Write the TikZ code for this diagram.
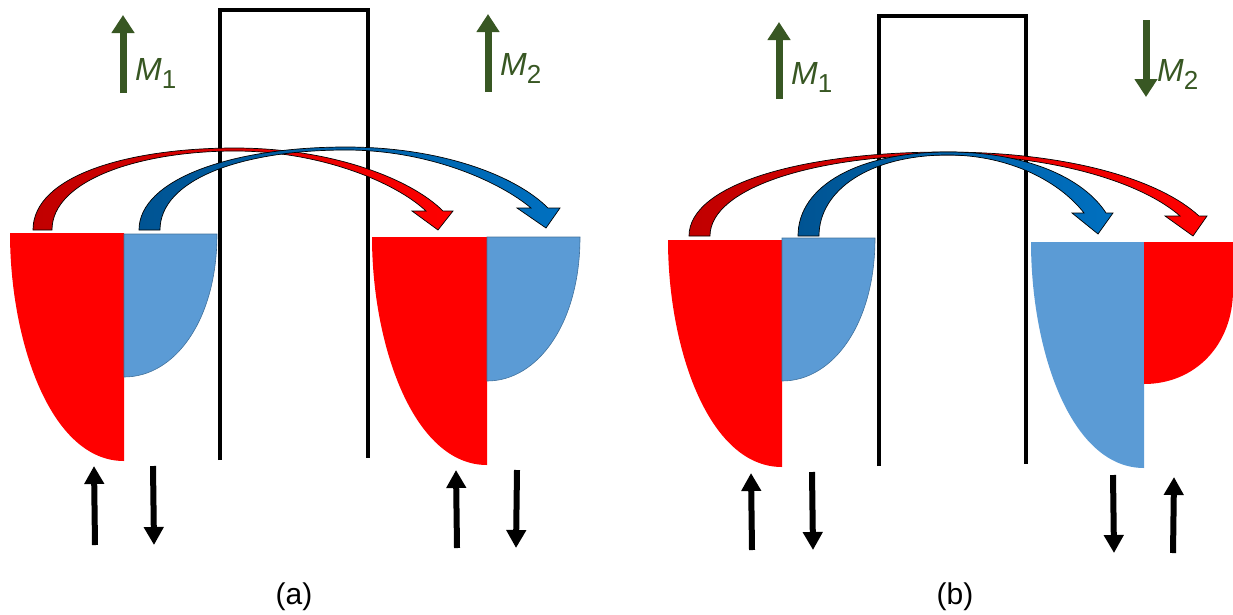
\documentclass[tikz,border=0pt]{standalone}
\usepackage{fontspec}
\setmainfont{Liberation Sans}
\usetikzlibrary{arrows.meta}
\definecolor{mgreen}{RGB}{56,87,35}
\definecolor{bred}{RGB}{255,0,0}
\definecolor{dred}{RGB}{192,0,0}
\definecolor{bblue}{RGB}{91,155,213}
\definecolor{bblueline}{RGB}{65,113,156}
\definecolor{ablue}{RGB}{0,112,192}
\definecolor{dblue}{RGB}{0,84,147}
\tikzset{
  barrier/.style={line width=4pt, line join=miter},
  redbowl/.style={fill=bred},
  bluebowl/.style={fill=bblue, draw=bblueline, line width=0.6pt},
  redarc/.style={draw=black, line width=0.7pt, left color=dred, right color=bred},
  bluearc/.style={draw=black, line width=0.7pt, left color=dblue, right color=ablue},
  marrow/.style={mgreen, line width=7pt, -{Triangle[length=18pt,width=22pt]}},
  sarrow/.style={black, line width=6pt, -{Triangle[length=18pt,width=19pt]}},
  mlabel/.style={text=mgreen, anchor=base west, inner sep=0pt, font=\fontsize{32}{38}\selectfont},
  plabel/.style={anchor=base, inner sep=0pt, font=\fontsize{30}{36}\selectfont}
}
\newcommand{\msub}[1]{\textit{M}\raisebox{-8pt}{\fontsize{26}{30}\selectfont #1}}
\begin{document}
\begin{tikzpicture}[x=1pt,y=-1pt]
\useasboundingbox (0,0) rectangle (1233,614);

% ---------- panel (a) ----------
\draw[barrier] (220,460) -- (220,10) -- (368,10) -- (368,458);
\fill[redbowl] (10,233) -- (124,233) -- (124,461) .. controls (50,461) and (10,340) .. (10,233) -- cycle;
\path[bluebowl] (124,234) -- (217,234) .. controls (217,320) and (175,377) .. (124,377) -- cycle;
\fill[redbowl] (372,237) -- (487,237) -- (487,465) .. controls (413,465) and (372,344) .. (372,237) -- cycle;
\path[bluebowl] (487,237) -- (580,237) .. controls (580,323) and (538,381) .. (487,381) -- cycle;

\path[redarc] (33,230) .. controls (33,175) and (130,148) .. (235,148)
  .. controls (330,148) and (410,178) .. (443,211) -- (453,211) -- (438,230) -- (412,211) -- (426,211)
  .. controls (395,182) and (320,151) .. (235,151)
  .. controls (140,151) and (52,180) .. (52,230) -- cycle;
\path[bluearc] (139,230) .. controls (139,180) and (230,147) .. (346,147)
  .. controls (440,147) and (515,175) .. (548,208) -- (560,208) -- (546,228) -- (517,208) -- (531,208)
  .. controls (500,182) and (430,150) .. (346,150)
  .. controls (240,150) and (160,180) .. (160,230) -- cycle;

\coordinate (am1s) at (123,93); \coordinate (am1e) at (123,15);
\coordinate (am2s) at (488,92); \coordinate (am2e) at (488,14);
\draw[marrow] (am1s) -- (am1e);
\draw[marrow] (am2s) -- (am2e);
\node[mlabel] (am1) at (135,80) {\msub{1}};
\node[mlabel] (am2) at (500,75) {\msub{2}};

\coordinate (a1s) at (95,545); \coordinate (a1e) at (94,466);
\coordinate (a2s) at (153,466); \coordinate (a2e) at (154,545);
\coordinate (a3s) at (457,548); \coordinate (a3e) at (456,470);
\coordinate (a4s) at (517,470); \coordinate (a4e) at (516,548);
\draw[sarrow] (a1s) -- (a1e);
\draw[sarrow] (a2s) -- (a2e);
\draw[sarrow] (a3s) -- (a3e);
\draw[sarrow] (a4s) -- (a4e);
\node[plabel] (la) at (294,604) {(a)};

% ---------- panel (b) ----------
\draw[barrier] (879,466) -- (879,16) -- (1026,16) -- (1026,464);
\fill[redbowl] (668,240) -- (782,240) -- (782,467) .. controls (708,467) and (668,347) .. (668,240) -- cycle;
\path[bluebowl] (782,238) -- (875,238) .. controls (875,324) and (833,381) .. (782,381) -- cycle;
\fill[bblue] (1031,242) -- (1144,242) -- (1144,468) .. controls (1070,468) and (1031,349) .. (1031,242) -- cycle;
\fill[redbowl] (1144,242) -- (1233,242) -- (1233,290) .. controls (1233,345) and (1195,384) .. (1144,384) -- cycle;

\path[redarc] (689,236) .. controls (689,185) and (800,152) .. (945,152)
  .. controls (1070,152) and (1160,180) .. (1199,216) -- (1207,216) -- (1193,236) -- (1165,216) -- (1180,216)
  .. controls (1145,185) and (1060,155) .. (945,155)
  .. controls (815,155) and (710,188) .. (710,236) -- cycle;
\path[bluearc] (798,236) .. controls (798,185) and (860,152) .. (948,152)
  .. controls (1030,152) and (1085,180) .. (1106,213) -- (1113,213) -- (1098,234) -- (1072,213) -- (1084,213)
  .. controls (1060,182) and (1010,155) .. (948,155)
  .. controls (870,155) and (819,190) .. (819,236) -- cycle;

\coordinate (bm1s) at (779,99); \coordinate (bm1e) at (779,22);
\coordinate (bm2s) at (1146,20); \coordinate (bm2e) at (1146,97);
\draw[marrow] (bm1s) -- (bm1e);
\draw[marrow] (bm2s) -- (bm2e);
\node[mlabel] (bm1) at (791,84) {\msub{1}};
\node[mlabel] (bm2) at (1157,81) {\msub{2}};

\coordinate (b1s) at (752,550); \coordinate (b1e) at (751,473);
\coordinate (b2s) at (812,472); \coordinate (b2e) at (813,550);
\coordinate (b3s) at (1113,475); \coordinate (b3e) at (1114,553);
\coordinate (b4s) at (1173,553); \coordinate (b4e) at (1174,477);
\draw[sarrow] (b1s) -- (b1e);
\draw[sarrow] (b2s) -- (b2e);
\draw[sarrow] (b3s) -- (b3e);
\draw[sarrow] (b4s) -- (b4e);
\node[plabel] (lb) at (955,604) {(b)};
\end{tikzpicture}
\end{document}
